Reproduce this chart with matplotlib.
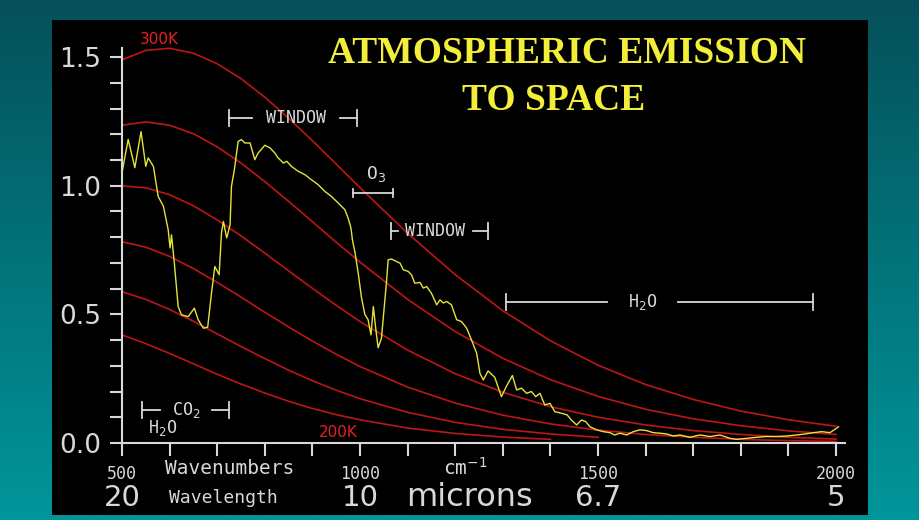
import numpy as np
import matplotlib
matplotlib.use("Agg")
import matplotlib.pyplot as plt
from matplotlib.colors import LinearSegmentedColormap

# Blackbody curves (300K ... 200K)
wn_bb = [500, 550, 600, 650, 700, 750, 800, 850, 900, 950, 1000, 1100, 1200,
         1300, 1400, 1500, 1600, 1700, 1800, 1900, 2000]
bb_300 = [1.489, 1.526, 1.534, 1.515, 1.474, 1.416, 1.344, 1.262, 1.175, 1.084,
          0.992, 0.815, 0.654, 0.514, 0.397, 0.302, 0.227, 0.169, 0.124, 0.090,
          0.065]
bb_280 = [1.235, 1.248, 1.235, 1.202, 1.151, 1.088, 1.016, 0.939, 0.860, 0.780,
          0.703, 0.558, 0.433, 0.329, 0.246, 0.181, 0.131, 0.094, 0.067, 0.047,
          0.033]
bb_260 = [0.999, 0.992, 0.965, 0.922, 0.867, 0.805, 0.738, 0.669, 0.601, 0.535,
          0.472, 0.361, 0.269, 0.197, 0.141, 0.100, 0.070, 0.048, 0.033, 0.022,
          0.015]
bb_240 = [0.782, 0.761, 0.725, 0.678, 0.624, 0.567, 0.508, 0.451, 0.396, 0.345,
          0.297, 0.217, 0.155, 0.108, 0.074, 0.050, 0.033, 0.022, 0.014, 0.009,
          0.006]
bb_220 = [0.588, 0.558, 0.519, 0.473, 0.424, 0.375, 0.328, 0.283, 0.242, 0.205,
          0.172, 0.119, 0.080, 0.053, 0.035, 0.022]
bb_200 = [0.420, 0.386, 0.348, 0.308, 0.267, 0.229, 0.194, 0.162, 0.134, 0.110,
          0.090, 0.058, 0.037, 0.023, 0.014]
bb_curves = [bb_300, bb_280, bb_260, bb_240, bb_220, bb_200]

# measured emission spectrum (yellow)
wn_obs = [501, 513, 527, 540, 550, 555, 566, 576, 587, 597, 601, 604, 610, 618,
          625, 639, 652, 660, 671, 680, 688, 695, 704, 709, 713, 720, 727, 730,
          736, 744, 751, 758, 769, 779, 786, 800, 811, 821, 828, 839, 846, 856,
          870, 884, 898, 912, 926, 940, 954, 968, 975, 981, 984, 989, 996, 1003,
          1010, 1017, 1023, 1028, 1033, 1038, 1045, 1051, 1056, 1059, 1066, 1077,
          1084, 1091, 1101, 1108, 1115, 1126, 1133, 1140, 1150, 1161, 1168, 1175,
          1182, 1192, 1203, 1213, 1224, 1234, 1245, 1252, 1259, 1269, 1283, 1297,
          1308, 1320, 1329, 1339, 1350, 1360, 1369, 1378, 1388, 1399, 1409, 1424,
          1435, 1444, 1455, 1465, 1474, 1483, 1497, 1511, 1525, 1535, 1546, 1560,
          1574, 1588, 1602, 1616, 1630, 1644, 1658, 1672, 1693, 1714, 1735, 1756,
          1777, 1791, 1812, 1833, 1854, 1875, 1896, 1917, 1935, 1952, 1970, 1987,
          1996, 2005]
rad_obs = [1.06, 1.18, 1.07, 1.21, 1.075, 1.108, 1.075, 0.958, 0.92, 0.829, 0.758,
           0.809, 0.699, 0.530, 0.498, 0.491, 0.524, 0.479, 0.446, 0.450, 0.582,
           0.686, 0.654, 0.816, 0.861, 0.797, 0.848, 0.998, 1.062, 1.172, 1.179,
           1.166, 1.166, 1.101, 1.127, 1.157, 1.147, 1.127, 1.108, 1.088, 1.095,
           1.075, 1.056, 1.043, 1.023, 1.004, 0.978, 0.958, 0.933, 0.907, 0.874,
           0.835, 0.790, 0.745, 0.663, 0.566, 0.50, 0.479, 0.420, 0.530, 0.445,
           0.370, 0.407, 0.530, 0.634, 0.712, 0.715, 0.705, 0.699, 0.673, 0.667,
           0.654, 0.621, 0.624, 0.602, 0.608, 0.582, 0.537, 0.556, 0.544, 0.550,
           0.537, 0.479, 0.472, 0.446, 0.401, 0.349, 0.27, 0.245, 0.28, 0.255,
           0.18, 0.222, 0.262, 0.206, 0.213, 0.193, 0.200, 0.180, 0.193, 0.148,
           0.154, 0.122, 0.115, 0.109, 0.089, 0.070, 0.089, 0.083, 0.063, 0.051,
           0.044, 0.040, 0.031, 0.038, 0.031, 0.044, 0.051, 0.048, 0.040, 0.038,
           0.035, 0.027, 0.031, 0.022, 0.031, 0.025, 0.031, 0.018, 0.014, 0.018,
           0.022, 0.025, 0.025, 0.027, 0.031, 0.035, 0.040, 0.044, 0.040, 0.051,
           0.063]

# band brackets: start, end, gap for the label (lo, hi), height, label
bands = [(725, 994, 773, 958, 1.263, "WINDOW"),
         (1065, 1269, 1080, 1237, 0.824, "WINDOW"),
         (1306, 1951, 1518, 1668, 0.548, "H$_2$O"),
         (542, 725, 580, 689, 0.128, "CO$_2$")]

wn_ticks = [500, 1000, 1500, 2000]
wl_labels = ["20", "10", "6.7", "5"]

fig = plt.figure(figsize=(9.2, 5.2), dpi=100)

# teal gradient background
bg = fig.add_axes([0, 0, 1, 1])
teal = LinearSegmentedColormap.from_list("teal", ["#05505a", "#00969a"])
bg.imshow(np.linspace(0, 1, 256).reshape(-1, 1), aspect="auto", cmap=teal,
          extent=[0, 1, 0, 1])
bg.axis("off")

ax = fig.add_axes([52 / 920, 5 / 520, 816 / 920, 495 / 520])
ax.set_facecolor("black")
ax.set_xlim(353, 2067)
ax.set_ylim(-0.280, 1.644)

red = "#bc1616"
for vals in bb_curves:
    ax.plot(wn_bb[:len(vals)], vals, color=red, lw=1.2)
ax.plot(wn_obs, rad_obs, color="#e4e43c", lw=1.0)

grey = "#d8d8d8"
for s in ["top", "right"]:
    ax.spines[s].set_visible(False)
ax.spines["left"].set_position(("data", 500))
ax.spines["left"].set_bounds(0, 1.535)
ax.spines["bottom"].set_position(("data", 0))
ax.spines["bottom"].set_bounds(500, 2018)
for s in ["left", "bottom"]:
    ax.spines[s].set_color(grey)
    ax.spines[s].set_linewidth(1.5)

yt = np.round(np.arange(0, 1.51, 0.1), 1)
ax.set_yticks(yt)
ax.set_yticklabels([f"{v:.1f}" if round(v * 10) % 5 == 0 else "" for v in yt])
xt = np.arange(500, 2001, 100)
ax.set_xticks(xt)
ax.set_xticklabels([str(v) if v in wn_ticks else "" for v in xt],
                   family="DejaVu Sans Mono")
ax.tick_params(axis="y", length=9, width=1.5, color=grey, labelcolor=grey,
               labelsize=19, pad=6)
ax.tick_params(axis="x", length=9, width=1.5, color=grey, labelcolor=grey,
               labelsize=12, pad=7)

# wavelength row
for w, lab in zip(wn_ticks, wl_labels):
    ax.text(w, -0.212, lab, color=grey, fontsize=21, ha="center", va="center")
ax.text(727, -0.101, "Wavenumbers", color=grey, fontsize=14,
        family="DejaVu Sans Mono", ha="center", va="center")
ax.text(714, -0.214, "Wavelength", color=grey, fontsize=13,
        family="DejaVu Sans Mono", ha="center", va="center")
ax.text(1222, -0.098, "cm$^{-1}$", color=grey, fontsize=14,
        family="DejaVu Sans Mono", ha="center", va="center")
ax.text(1229, -0.212, "microns", color=grey, fontsize=23,
        ha="center", va="center")

# band brackets
for x0, x1, g0, g1, y, lab in bands:
    ax.plot([x0, g0], [y, y], color=grey, lw=1.3)
    ax.plot([g1, x1], [y, y], color=grey, lw=1.3)
    for xe in (x0, x1):
        ax.plot([xe, xe], [y - 0.03, y + 0.03], color=grey, lw=1.3)
    ax.text((g0 + g1) / 2, y, lab, color=grey, fontsize=12,
            family="DejaVu Sans Mono", ha="center", va="center")

# O3 bracket with label above
ax.plot([985, 1069], [0.972, 0.972], color=grey, lw=1.3)
for xe in (985, 1069):
    ax.plot([xe, xe], [0.955, 0.989], color=grey, lw=1.3)
ax.text(1033, 1.045, "O$_3$", color=grey, fontsize=13,
        family="DejaVu Sans Mono", ha="center", va="center")
ax.text(586, 0.058, "H$_2$O", color=grey, fontsize=12,
        family="DejaVu Sans Mono", ha="center", va="center")

ax.text(578, 1.57, "300K", color="#e82020", fontsize=11, ha="center", va="center")
ax.text(954, 0.039, "200K", color="#e82020", fontsize=11, ha="center", va="center")

title_kw = dict(color="#f2ee3a", fontsize=27, family="Liberation Serif",
                weight="bold", ha="center", va="center")
ax.text(1435, 1.512, "ATMOSPHERIC EMISSION", **title_kw)
ax.text(1407, 1.330, "TO SPACE", **title_kw)

fig.savefig("out.png", dpi=100, facecolor=fig.get_facecolor())
